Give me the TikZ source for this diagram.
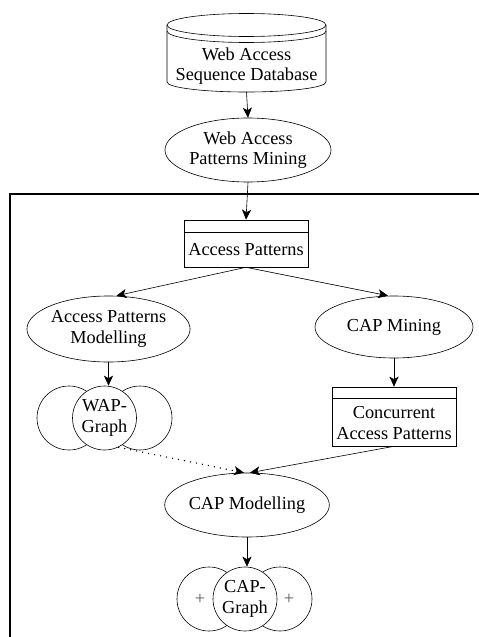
\documentclass[tikz,border=0pt]{standalone}
\usepackage{fontspec}
\setmainfont{Liberation Serif}
\usetikzlibrary{arrows.meta,shapes.geometric}
\begin{document}
\begin{tikzpicture}[x=1pt,y=-1pt,
  every node/.style={font=\fontsize{18.3}{20.5}\selectfont, align=center, inner sep=0pt},
  proc/.style={draw, ellipse, line width=0.6pt},
  store/.style={draw, rectangle, line width=0.6pt},
  ring/.style={draw, circle, minimum size=64pt, line width=0.6pt},
  ringmid/.style={ring, fill=white},
  plus/.style={text=black!65},
  conn/.style={line width=0.6pt, -{Stealth[length=10pt,width=9pt,inset=2.5pt]}},
  dotconn/.style={conn, line width=1.1pt, dash pattern=on 1.1pt off 5pt}
]
\useasboundingbox (0,0) rectangle (479,637);

% frame
\draw[line width=1.5pt] (479,194) -- (10,194) -- (10,637);

% database cylinder
\draw[line width=0.6pt] (167,25) -- (167,82) arc[start angle=180,end angle=360,x radius=79.5pt,y radius=10pt] -- (326,25);
\draw[line width=0.6pt] (246.5,25) ellipse [x radius=79.5pt, y radius=11.5pt];
\draw[line width=0.6pt] (167,31) arc[start angle=180,end angle=360,x radius=79.5pt,y radius=11.5pt];
\node (db) at (246.5,66) {Web Access\\Sequence Database};
\coordinate (dbbot) at (246.5,92);

\node[proc, minimum width=158pt, minimum height=64pt] (wam) at (248,150) {Web Access\\Patterns Mining};

\node[store, minimum width=124pt, minimum height=47pt] (ap) at (246,243.5) {};
\draw[line width=0.6pt] (184,232) -- (308,232);
\node (aptext) at (246,250) {Access Patterns};

\node[proc, minimum width=157pt, minimum height=66pt] (apm) at (108.5,329) {Access Patterns\\Modelling};
\node[proc, minimum width=158pt, minimum height=62pt] (cm) at (394,327) {CAP Mining};

% WAP-Graph
\node[ring] (wapl) at (69,418) {};
\node[ring] (wapr) at (140,418) {};
\node[ringmid] (wapm) at (104.5,418) {WAP-\\Graph};

\node[store, minimum width=124pt, minimum height=59pt] (cap) at (394,416.5) {};
\draw[line width=0.6pt] (332,398) -- (456,398);
\node (captext) at (394,423) {Concurrent\\Access Patterns};

\node[proc, minimum width=160pt, minimum height=64pt] (capm) at (247,505) {CAP Modelling};

% CAP-Graph
\node[ring] (capl) at (209,599) {};
\node[ring] (capr) at (280,599) {};
\node[ringmid] (capg) at (245,599) {CAP-\\Graph};
\node[plus] (pl) at (200,599) {+};
\node[plus] (pr) at (289,599) {+};

% connectors
\draw[conn] (dbbot) -- (wam.north);
\draw[conn] (wam.south) -- (ap.north);
\draw[conn] (ap.south) -- ([xshift=8pt]apm.north);
\draw[conn] (ap.south) -- ([xshift=-6pt]cm.north);
\draw[conn] (apm.south) -- (apm.south |- wapm.north);
\draw[conn] (cm.south) -- (cm.south |- cap.north);
\draw[dotconn] (wapm.-65) -- ([xshift=-3pt]capm.north);
\draw[conn] (cap.south) -- ([xshift=3pt]capm.north);
\draw[conn] (capm.south) -- (capm.south |- capg.north);
\end{tikzpicture}
\end{document}
